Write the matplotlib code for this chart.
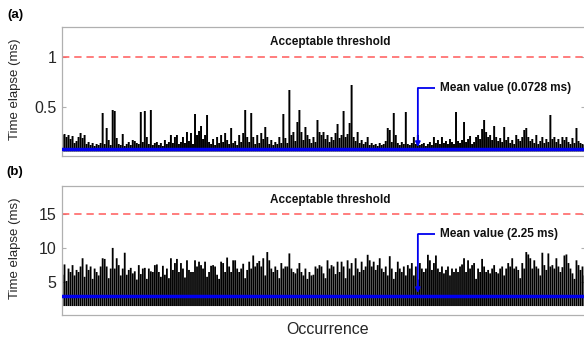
import numpy as np
import matplotlib
matplotlib.use("Agg")
import matplotlib.pyplot as plt

plt.rcParams['font.family'] = ['Liberation Sans', 'DejaVu Sans']

# ---------------- data ----------------
# (a) time elapse per occurrence bin (ms)
time_a = [
    0.22, 0.23, 0.2, 0.22, 0.18, 0.21, 0.14, 0.16, 0.2, 0.24,
    0.19, 0.22, 0.13, 0.15, 0.12, 0.14, 0.11, 0.13, 0.12, 0.14,
    0.44, 0.13, 0.29, 0.17, 0.12, 0.47, 0.46, 0.19, 0.13, 0.12,
    0.23, 0.11, 0.13, 0.15, 0.12, 0.17, 0.16, 0.14, 0.13, 0.45,
    0.15, 0.46, 0.2, 0.13, 0.47, 0.12, 0.14, 0.15, 0.12, 0.14,
    0.11, 0.17, 0.13, 0.15, 0.22, 0.14, 0.2, 0.22, 0.13, 0.15,
    0.2, 0.14, 0.25, 0.16, 0.24, 0.13, 0.43, 0.22, 0.26, 0.31,
    0.18, 0.22, 0.42, 0.15, 0.13, 0.18, 0.12, 0.2, 0.14, 0.22,
    0.15, 0.24, 0.17, 0.13, 0.29, 0.14, 0.16, 0.12, 0.22, 0.15,
    0.24, 0.47, 0.2, 0.15, 0.44, 0.2, 0.13, 0.22, 0.14, 0.24,
    0.18, 0.30, 0.2, 0.13, 0.17, 0.12, 0.15, 0.13, 0.2, 0.14,
    0.43, 0.19, 0.14, 0.67, 0.22, 0.25, 0.16, 0.35, 0.47, 0.25,
    0.17, 0.30, 0.22, 0.18, 0.14, 0.2, 0.15, 0.37, 0.25, 0.22,
    0.25, 0.18, 0.22, 0.15, 0.2, 0.17, 0.24, 0.33, 0.19, 0.22,
    0.46, 0.2, 0.23, 0.34, 0.72, 0.2, 0.16, 0.25, 0.14, 0.17,
    0.13, 0.15, 0.2, 0.12, 0.14, 0.12, 0.13, 0.11, 0.14, 0.12,
    0.13, 0.16, 0.29, 0.27, 0.15, 0.44, 0.22, 0.14, 0.12, 0.15,
    0.13, 0.45, 0.13, 0.12, 0.14, 0.2, 0.13, 0.22, 0.12, 0.13,
    0.14, 0.11, 0.13, 0.15, 0.12, 0.2, 0.14, 0.17, 0.13, 0.2,
    0.14, 0.16, 0.13, 0.18, 0.15, 0.13, 0.45, 0.16, 0.14, 0.17,
    0.35, 0.15, 0.18, 0.21, 0.13, 0.15, 0.2, 0.22, 0.18, 0.28,
    0.37, 0.25, 0.2, 0.22, 0.17, 0.31, 0.2, 0.16, 0.19, 0.15,
    0.30, 0.17, 0.2, 0.14, 0.17, 0.13, 0.22, 0.18, 0.16, 0.2,
    0.27, 0.29, 0.2, 0.16, 0.18, 0.14, 0.22, 0.13, 0.16, 0.2,
    0.14, 0.18, 0.15, 0.42, 0.18, 0.2, 0.15, 0.18, 0.13, 0.2,
    0.17, 0.2, 0.15, 0.13, 0.19, 0.14, 0.29, 0.16, 0.14, 0.13, 0.12,
]
floor_a = 0.055
mean_line_a = 0.08
threshold_a = 1.0
mean_label_a = "Mean value (0.0728 ms)"

# (b) time elapse per occurrence bin (ms)
time_b = [
    6.1, 7.6, 5.2, 7.0, 6.5, 7.5, 6.0, 6.8, 6.5, 7.3,
    8.5, 5.8, 7.6, 6.8, 7.3, 5.5, 7.0, 6.5, 6.0, 7.3,
    8.5, 8.4, 7.3, 5.6, 7.0, 10.0, 7.0, 8.5, 7.5, 6.0,
    7.0, 9.3, 6.1, 6.8, 7.1, 6.3, 6.6, 5.4, 7.5, 6.2,
    7.0, 7.1, 5.5, 7.0, 6.6, 6.5, 7.5, 7.6, 6.5, 5.8,
    7.4, 6.1, 7.0, 5.6, 8.5, 6.8, 7.8, 8.4, 6.5, 7.8,
    7.0, 5.7, 8.2, 6.8, 6.5, 6.5, 8.2, 7.3, 8.0, 7.5,
    7.0, 8.0, 5.8, 6.5, 7.4, 7.5, 7.3, 6.1, 5.5, 8.0,
    7.8, 6.5, 8.6, 7.3, 6.5, 8.2, 8.2, 7.0, 6.5, 7.0,
    7.7, 5.6, 6.8, 8.0, 7.0, 8.9, 7.3, 7.8, 8.1, 7.3,
    8.5, 6.0, 9.4, 8.2, 7.0, 6.5, 7.3, 6.8, 5.6, 7.8,
    7.0, 7.3, 7.3, 9.2, 7.0, 6.5, 6.3, 7.0, 7.8, 6.5,
    6.0, 7.0, 5.5, 6.5, 6.0, 6.1, 7.3, 7.0, 7.5, 7.3,
    6.3, 5.6, 8.2, 7.0, 7.5, 7.3, 6.2, 8.0, 6.5, 8.0,
    7.3, 5.6, 8.2, 7.0, 7.8, 6.0, 8.5, 7.0, 6.5, 8.0,
    6.8, 7.3, 9.0, 8.2, 7.3, 8.0, 6.8, 7.5, 8.5, 7.0,
    6.5, 7.3, 6.0, 8.8, 7.0, 5.5, 6.5, 8.0, 7.0, 6.5,
    7.3, 6.0, 7.5, 7.0, 7.8, 6.0, 7.3, 5.4, 7.8, 7.0,
    6.5, 7.0, 9.0, 8.2, 6.8, 7.8, 8.9, 7.0, 6.5, 7.3,
    6.3, 6.8, 7.3, 6.0, 7.0, 6.5, 7.0, 6.5, 7.3, 7.6,
    8.5, 6.5, 8.2, 7.0, 7.5, 7.8, 5.5, 7.0, 6.5, 8.4,
    7.3, 6.5, 6.8, 6.3, 7.0, 7.5, 6.5, 6.3, 7.0, 7.3,
    6.0, 7.0, 7.8, 7.3, 8.5, 7.0, 7.3, 6.8, 5.6, 7.8,
    7.0, 9.4, 9.05, 8.5, 7.0, 8.2, 7.3, 7.0, 6.0, 9.3,
    7.5, 6.8, 9.2, 7.3, 7.5, 7.0, 8.5, 7.3, 6.5, 7.2,
    8.9, 9.05, 7.8, 7.0, 6.3, 5.5, 8.2, 7.5, 6.8, 7.3, 6.0,
]
floor_b = 1.55
mean_line_b = 3.0
threshold_b = 15.0
mean_label_b = "Mean value (2.25 ms)"

yticks_a = [0.5, 1]
yticklabels_a = ["0.5", "1"]
yticks_b = [5, 10, 15]
yticklabels_b = ["5", "10", "15"]

# ---------------- figure ----------------
W, H = 584, 342
fig = plt.figure(figsize=(W / 100, H / 100), dpi=100)

def px_axes(x0, y0, x1, y1):
    return fig.add_axes([x0 / W, 1 - y1 / H, (x1 - x0) / W, (y1 - y0) / H])

ax_a = px_axes(62, 27, 585, 156)
ax_b = px_axes(62, 186, 585, 315)

spine_col = '#b0b0b0'
blue = '#0000ee'
red = '#ff5a5a'

def style(ax, ylim, yticks, ylabels):
    n = len(time_a)
    ax.set_xlim(0.75, n + 0.25)
    ax.set_ylim(*ylim)
    ax.set_xticks([])
    ax.set_yticks(yticks)
    ax.set_yticklabels(ylabels)
    ax.tick_params(axis='y', direction='in', length=3, width=0.8, color=spine_col,
                   labelsize=11.5, labelcolor='#262626', pad=4, right=True)
    for s in ax.spines.values():
        s.set_color(spine_col)
        s.set_linewidth(0.9)
    ax.set_ylabel("Time elapse (ms)", fontsize=9.5, color='#262626')
    ax.yaxis.set_label_coords(-0.079, 0.515)

def draw(ax, vals, floor, mean_line, thr, label, thr_text_y, mean_text_y, tip_y, lw):
    occ = np.arange(1, len(vals) + 1)
    ax.vlines(occ, floor, vals, color='black', lw=lw, snap=False)
    ax.axhline(mean_line, color=blue, lw=2.5, zorder=3)
    ax.axhline(thr, color=red, lw=1.1, dashes=(4.8, 3.2))
    ax.text(134.5, thr_text_y, "Acceptable threshold", ha='center', va='center',
            fontsize=8.5, fontweight='bold', color='#111111')
    x_arrow = 178
    x_hend = 186.5
    ax.plot([x_hend, x_arrow], [mean_text_y, mean_text_y], color=blue, lw=1.3, zorder=4,
            solid_capstyle='butt')
    ax.annotate('', xy=(x_arrow, tip_y), xytext=(x_arrow, mean_text_y),
                arrowprops=dict(arrowstyle='-|>', color=blue, lw=1.3, mutation_scale=7,
                                shrinkA=0, shrinkB=0), zorder=4)
    ax.text(188.8, mean_text_y, label, ha='left', va='center', fontsize=8.5,
            fontweight='bold', color='#111111')

style(ax_a, (0.01, 1.3), yticks_a, yticklabels_a)
style(ax_b, (0.25, 19), yticks_b, yticklabels_b)

draw(ax_a, time_a, floor_a, mean_line_a, threshold_a, mean_label_a, 1.15, 0.69, 0.10, 1.4)
draw(ax_b, time_b, floor_b, mean_line_b, threshold_b, mean_label_b, 16.9, 12.0, 3.45, 1.3)

fig.text(15 / W, 1 - 15 / H, "(a)", ha='center', va='center', fontsize=9.5, fontweight='bold')
fig.text(15 / W, 1 - 172 / H, "(b)", ha='center', va='center', fontsize=9.5, fontweight='bold')
fig.text(328 / W, 1 - 329 / H, "Occurrence", ha='center', va='center', fontsize=11.5, color='#262626')

fig.savefig("out.png", dpi=100)
